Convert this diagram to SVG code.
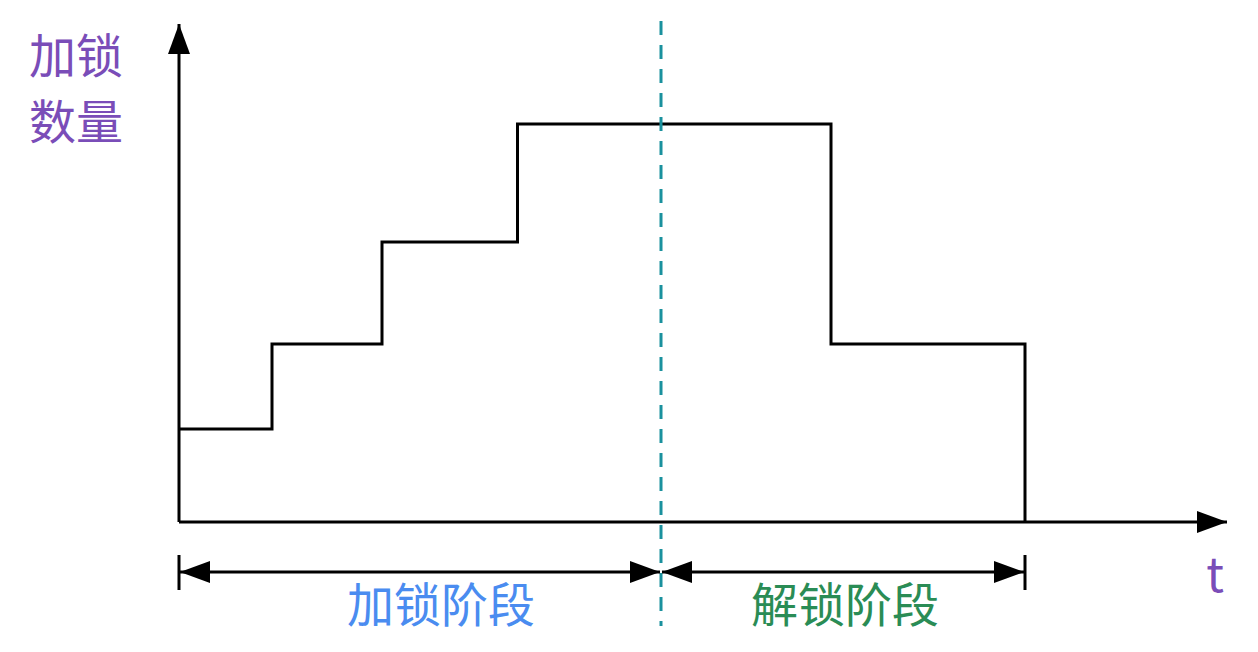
<svg xmlns="http://www.w3.org/2000/svg" width="1258" height="652" viewBox="0 0 1258 652">
<style>
.ln{fill:none;stroke:#000;stroke-width:3}
.dash{fill:none;stroke:#1a919e;stroke-width:3;stroke-dasharray:14 10}
.t{font-family:"Noto Sans CJK SC","Noto Sans",sans-serif;font-size:47px}
</style>
<defs>
<marker id="ah" viewBox="0 0 30 22" refX="30" refY="11" markerWidth="30" markerHeight="22" markerUnits="userSpaceOnUse" orient="auto-start-reverse">
<path d="M0,0 L30,11 L0,22 Z" fill="#000"/>
</marker>
</defs>
<rect width="1258" height="652" fill="#fff"/>
<g id="connectors">
<line class="ln" x1="179" y1="522" x2="179" y2="24" marker-end="url(#ah)"/>
<line class="ln" x1="179" y1="522" x2="1227" y2="522" marker-end="url(#ah)"/>
<polyline class="ln" points="179,429 272,429 272,344 382,344 382,242 517.5,242 517.5,124 831,124 831,344 1025,344 1025,522"/>
<line class="dash" x1="661" y1="21" x2="661" y2="626"/>
<line class="ln" x1="179" y1="555" x2="179" y2="590"/>
<line class="ln" x1="1025" y1="555" x2="1025" y2="590"/>
<line class="ln" x1="180" y1="572" x2="660" y2="572" marker-start="url(#ah)" marker-end="url(#ah)"/>
<line class="ln" x1="662" y1="572" x2="1024" y2="572" marker-start="url(#ah)" marker-end="url(#ah)"/>
</g>
<g id="ylabel">
<text class="t" x="29" y="73" fill="#7a4db8">加锁</text>
<text class="t" x="29" y="139" fill="#7a4db8">数量</text>
</g>
<g id="xlabel">
<text class="t" x="1215" y="592" fill="#7a4db8" font-family="Noto Sans,sans-serif" text-anchor="middle">t</text>
</g>
<g id="lock-phase">
<text class="t" x="441" y="622" fill="#4a8cf0" text-anchor="middle">加锁阶段</text>
</g>
<g id="unlock-phase">
<text class="t" x="845" y="622" fill="#2a8c55" text-anchor="middle">解锁阶段</text>
</g>
</svg>
